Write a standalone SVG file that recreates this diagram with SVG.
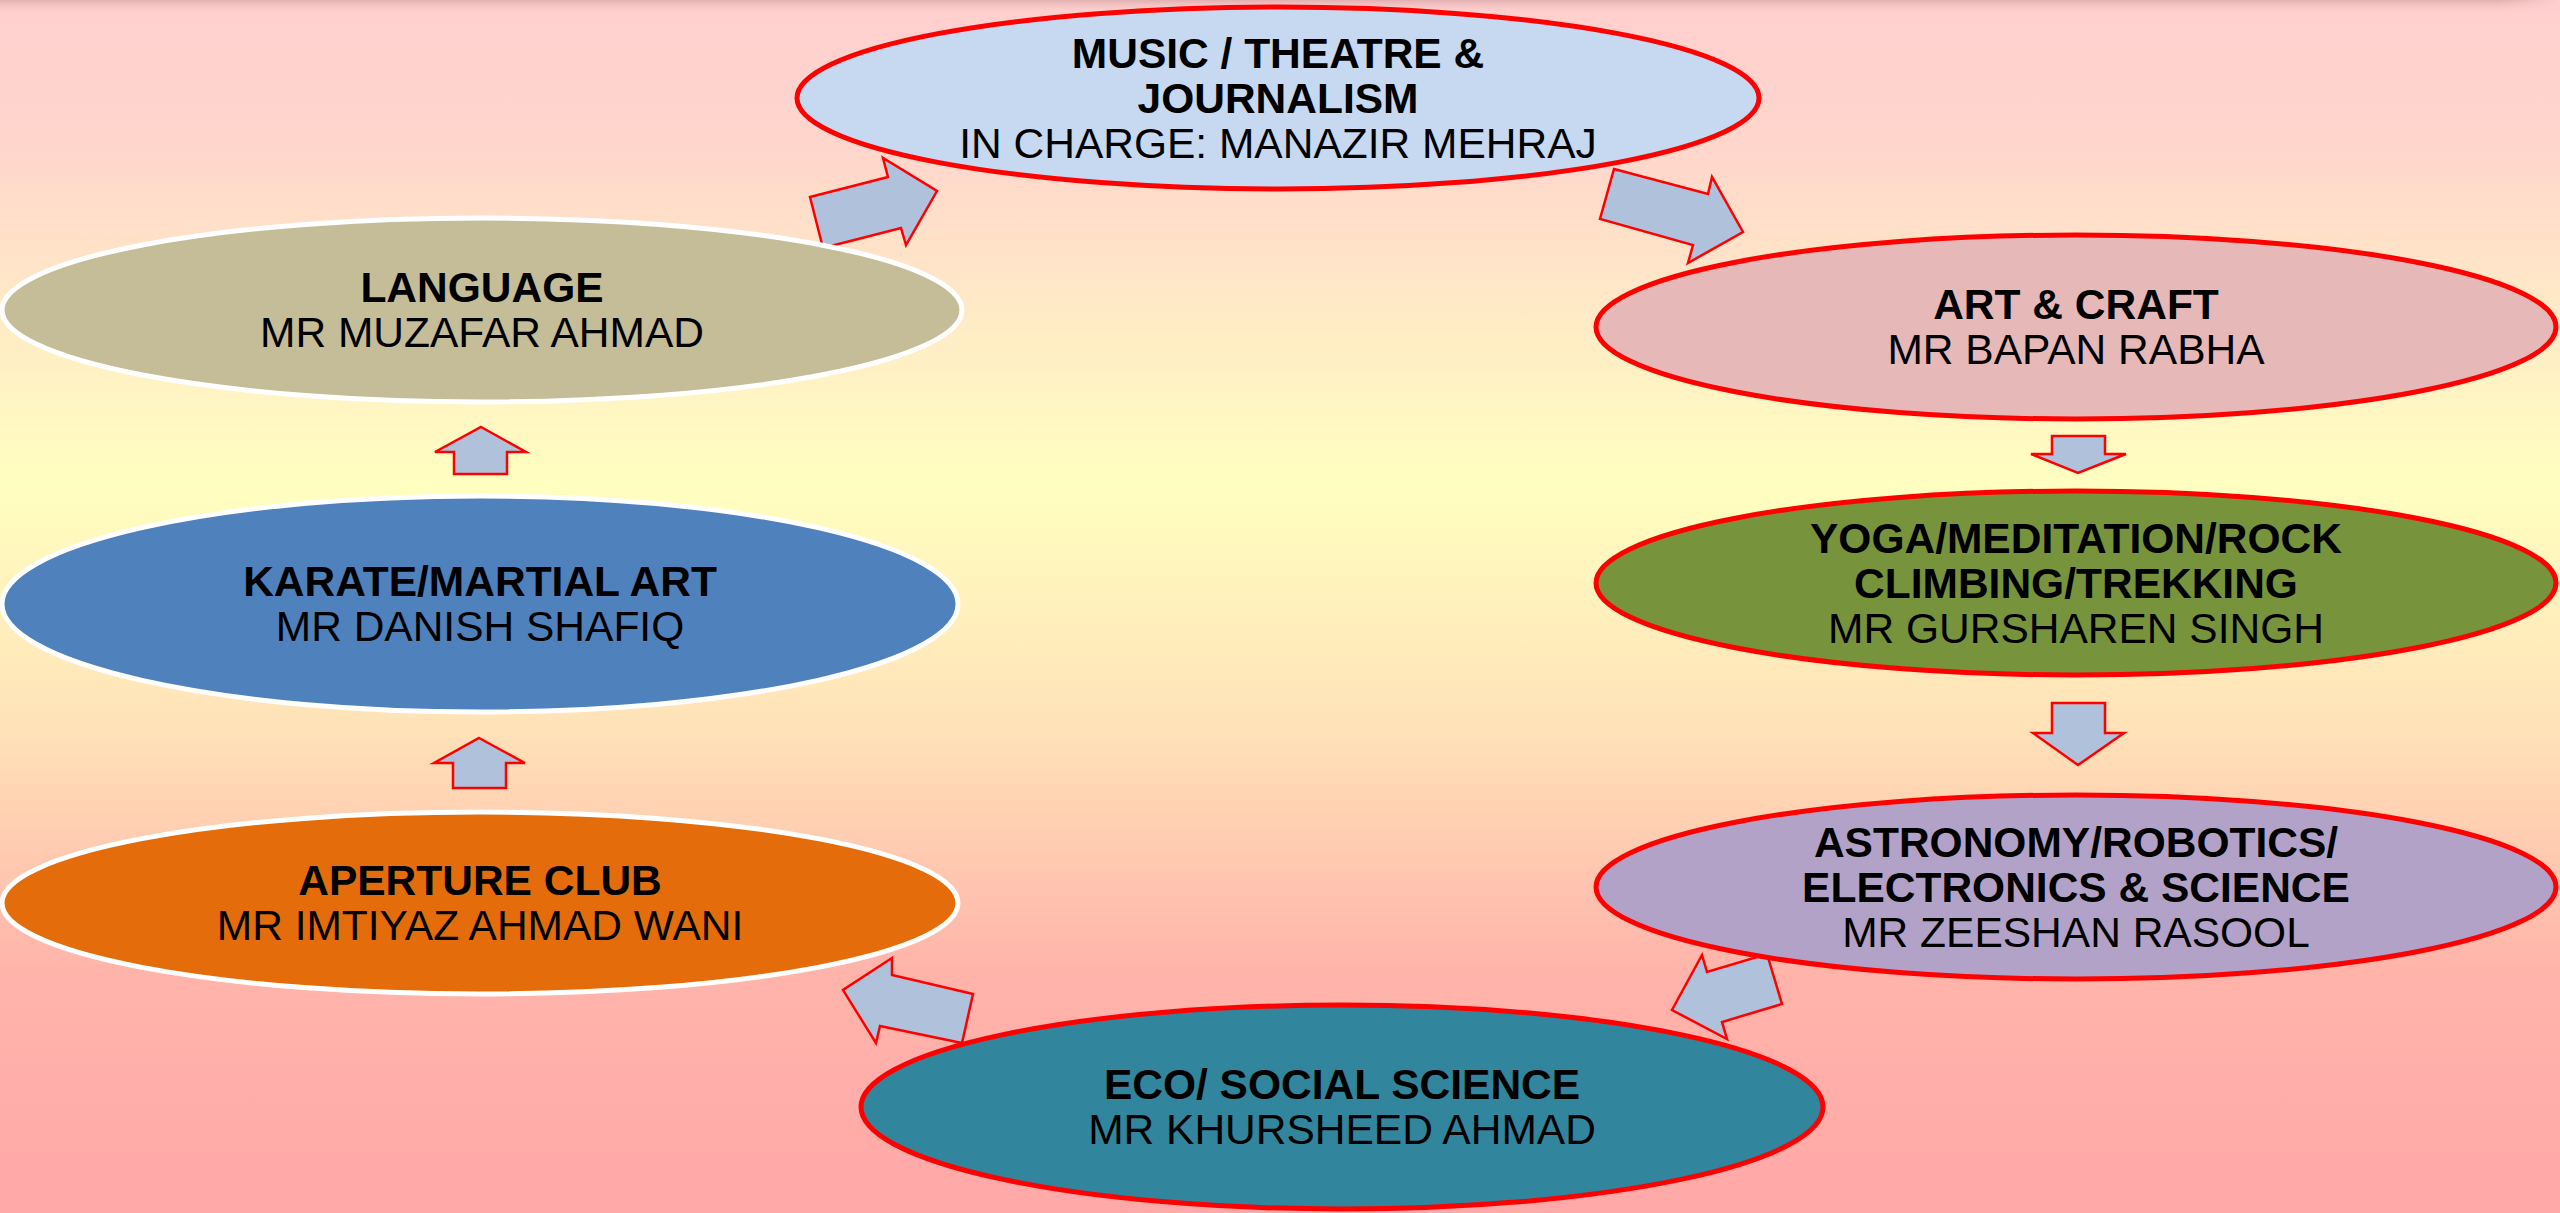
<svg xmlns="http://www.w3.org/2000/svg" width="2560" height="1213" viewBox="0 0 2560 1213">
<defs>
<linearGradient id="bg" x1="0" y1="0" x2="0" y2="1">
<stop offset="0" stop-color="#ffcfcf"/>
<stop offset="0.12" stop-color="#ffd6cc"/>
<stop offset="0.4" stop-color="#ffffc0"/>
<stop offset="0.6" stop-color="#ffe2b8"/>
<stop offset="0.8" stop-color="#ffb4aa"/>
<stop offset="1" stop-color="#ffa8a8"/>
</linearGradient>
<linearGradient id="shade" x1="0" y1="0" x2="0" y2="1">
<stop offset="0" stop-color="#d9a8a8" stop-opacity="0.8"/>
<stop offset="1" stop-color="#ffcfcf" stop-opacity="0"/>
</linearGradient>
<linearGradient id="shadeR" x1="0" y1="0" x2="1" y2="0">
<stop offset="0" stop-color="#ffcfcf" stop-opacity="0"/>
<stop offset="1" stop-color="#ffcfcf" stop-opacity="1"/>
</linearGradient>
</defs>
<style>
.red{stroke:#ff0000;stroke-width:5}
.wht{stroke:#ffffff;stroke-width:5}
.arr{fill:#b0c1db;stroke:#ff0000;stroke-width:2.5;stroke-linejoin:miter}
text{font-family:"Liberation Sans",Arial,sans-serif;font-size:42.5px;fill:#000;text-anchor:middle}
.b{font-weight:bold}
</style>
<rect x="0" y="0" width="2560" height="1213" fill="url(#bg)"/>
<rect x="0" y="0" width="2560" height="14" fill="url(#shade)"/>
<rect x="2500" y="0" width="60" height="14" fill="url(#shadeR)"/>

<g id="connectors">
<polygon class="arr" points="810,197 888,177 883,158 937,191 906,245 901,228 823,248"/>
<polygon class="arr" points="1614,169 1708,194 1712,177 1743,232 1688,263 1693,245 1600,219"/>
<polygon class="arr" points="2052,436 2105,436 2105,454 2126,454 2078,473 2031,454 2052,454"/>
<polygon class="arr" points="2052,703 2105,703 2105,733 2124,733 2078,765 2033,733 2052,733"/>
<polygon class="arr" points="1767,954 1782,1004 1722,1022 1727,1039 1672,1010 1702,955 1707,972"/>
<polygon class="arr" points="973,994 962,1043 880,1026 876,1043 843,990 892,958 892,975"/>
<polygon class="arr" points="479,738 525,763 506,763 506,788 453,788 453,763 434,763"/>
<polygon class="arr" points="481,427 526,452 507,452 507,474 454,474 454,452 435,452"/>
</g>

<g id="music">
<ellipse class="red" cx="1278" cy="98" rx="481" ry="91" fill="#c6d9f1"/>
<text x="1278" y="68" class="b">MUSIC / THEATRE &amp;</text>
<text x="1278" y="113" class="b">JOURNALISM</text>
<text x="1278" y="158">IN CHARGE: MANAZIR MEHRAJ</text>
</g>

<g id="language">
<ellipse class="wht" cx="482" cy="310" rx="480" ry="92" fill="#c4bd97"/>
<text x="482" y="302" class="b">LANGUAGE</text>
<text x="482" y="347">MR MUZAFAR AHMAD</text>
</g>

<g id="karate">
<ellipse class="wht" cx="480" cy="604" rx="478" ry="108" fill="#4f81bd"/>
<text x="480" y="596" class="b">KARATE/MARTIAL ART</text>
<text x="480" y="641">MR DANISH SHAFIQ</text>
</g>

<g id="aperture">
<ellipse class="wht" cx="480" cy="903" rx="478" ry="91" fill="#e46c0a"/>
<text x="480" y="895" class="b">APERTURE CLUB</text>
<text x="480" y="940">MR IMTIYAZ AHMAD WANI</text>
</g>

<g id="eco">
<ellipse class="red" cx="1342" cy="1107" rx="481" ry="102" fill="#31859c"/>
<text x="1342" y="1099" class="b">ECO/ SOCIAL SCIENCE</text>
<text x="1342" y="1144">MR KHURSHEED AHMAD</text>
</g>

<g id="artcraft">
<ellipse class="red" cx="2076" cy="327" rx="480" ry="92" fill="#e6b9b8"/>
<text x="2076" y="319" class="b">ART &amp; CRAFT</text>
<text x="2076" y="364">MR BAPAN RABHA</text>
</g>

<g id="yoga">
<ellipse class="red" cx="2076" cy="583" rx="480" ry="92" fill="#77933c"/>
<text x="2076" y="553" class="b">YOGA/MEDITATION/ROCK</text>
<text x="2076" y="598" class="b">CLIMBING/TREKKING</text>
<text x="2076" y="643">MR GURSHAREN SINGH</text>
</g>

<g id="astronomy">
<ellipse class="red" cx="2076" cy="887" rx="480" ry="92" fill="#b3a2c7"/>
<text x="2076" y="857" class="b">ASTRONOMY/ROBOTICS/</text>
<text x="2076" y="902" class="b">ELECTRONICS &amp; SCIENCE</text>
<text x="2076" y="947">MR ZEESHAN RASOOL</text>
</g>
</svg>
